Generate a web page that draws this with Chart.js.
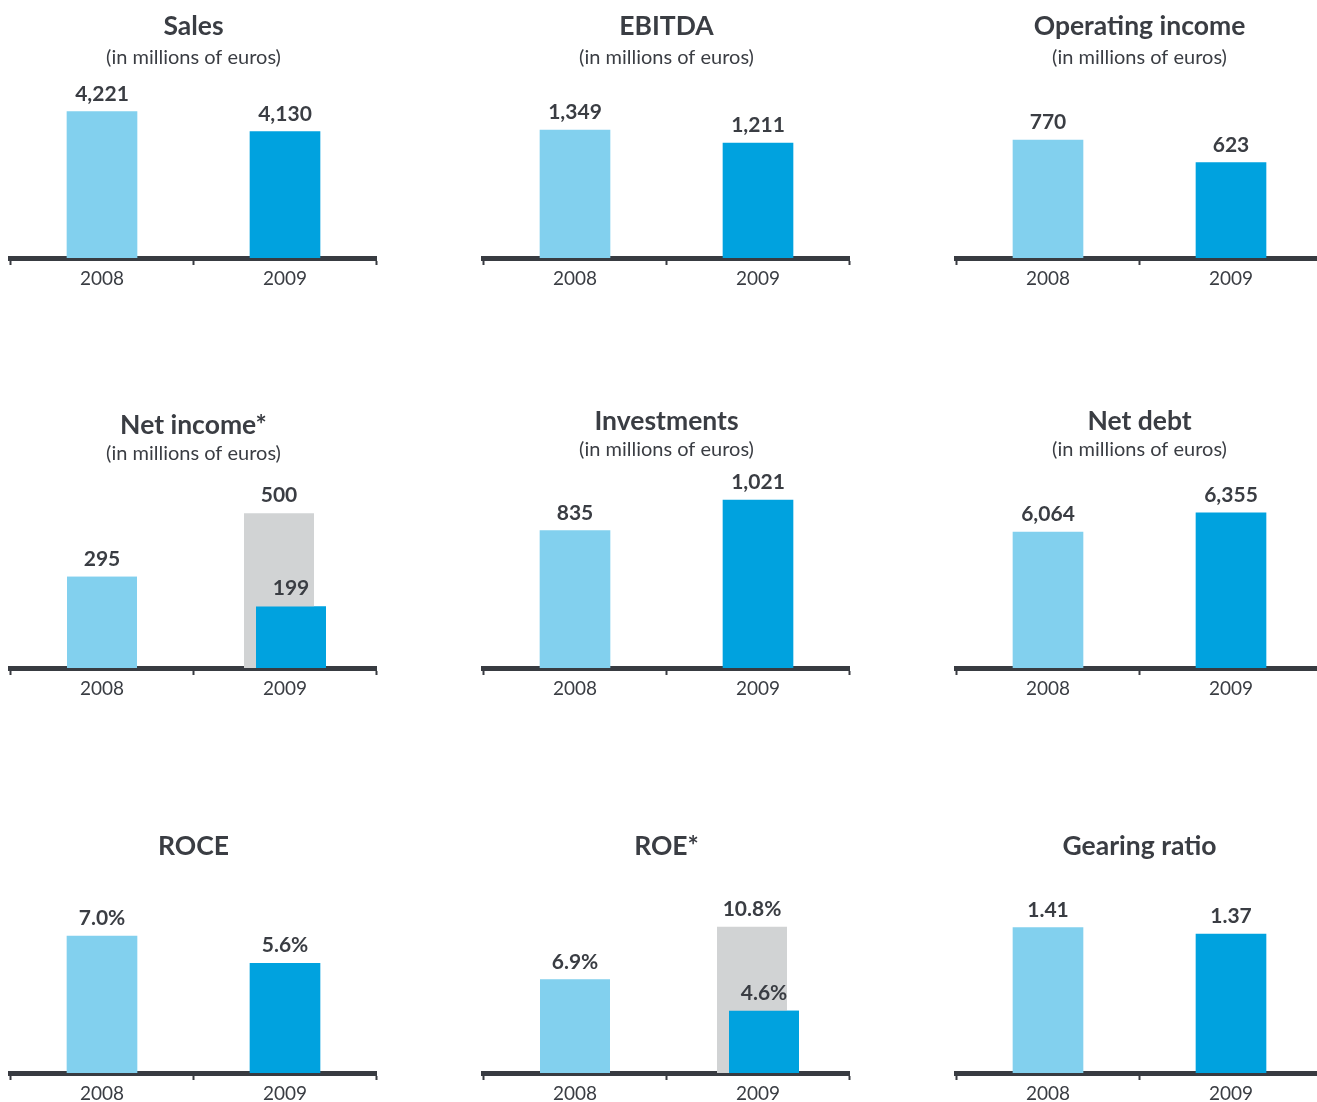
<!DOCTYPE html>
<html>
<head>
<meta charset="utf-8">
<script src="https://cdn.jsdelivr.net/npm/chart.js@4.4.1/dist/chart.umd.min.js"></script>
<style>
  html, body { margin: 0; padding: 0; background: #fff; overflow: hidden; }
  #page { position: relative; width: 1317px; height: 1102px; overflow: hidden; }
  #page canvas { position: absolute; }
</style>
</head>
<body>
<div id="page"></div>
<script>
const years = ['2008', '2009'];

const sales = [4221, 4130];
const ebitda = [1349, 1211];
const operatingIncome = [770, 623];
const netIncome = [295, 199];
const netIncomeGrey = [null, 500];
const investments = [835, 1021];
const netDebt = [6064, 6355];
const roce = [7.0, 5.6];
const roe = [6.9, 4.6];
const roeGrey = [null, 10.8];
const gearing = [1.41, 1.37];

const light = '#82d0ee';
const blue = '#00a2df';
const grey = '#d1d3d4';
const ink = '#383b41';
const text = '#3a3d43';
const millions = '(in millions of euros)';

const thousands = v => v.toLocaleString('en-US');
const pct = v => v.toFixed(1) + '%';
const ratio = v => v.toFixed(2);

// canvas placement per row, chart area bottom sits on the axis line
const rows = [
  {top: 0, height: 292},
  {top: 400, height: 302},
  {top: 800, height: 307}
];
const colLeft = [1, 474, 947];

const panels = [
  {title: 'Sales', sub: millions, values: sales, min: 3550, max: 4412, fmt: thousands,
   row: 0, col: 0, titlePad: {top: 10.1, bottom: 4.1}, subPad: 0},
  {title: 'EBITDA', sub: millions, values: ebitda, min: 0, max: 1981, fmt: thousands,
   row: 0, col: 1, titlePad: {top: 10.1, bottom: 4.1}, subPad: 0},
  {title: 'Operating income', sub: millions, values: operatingIncome, min: 0, max: 1227, fmt: thousands,
   row: 0, col: 2, titlePad: {top: 10.1, bottom: 4.1}, subPad: 0},
  {title: 'Net income*', sub: millions, values: netIncome, greyValues: netIncomeGrey, min: 0, max: 640, fmt: thousands,
   row: 1, col: 0, titlePad: {top: 10, bottom: 0}, subPad: 4.2},
  {title: 'Investments', sub: millions, values: investments, min: 0, max: 1203, fmt: thousands,
   row: 1, col: 1, titlePad: {top: 5.4, bottom: 0}, subPad: 8.8},
  {title: 'Net debt', sub: millions, values: netDebt, min: 4000, max: 7005, fmt: thousands,
   row: 1, col: 2, titlePad: {top: 5.4, bottom: 0}, subPad: 8.8},
  {title: 'ROCE', values: roce, min: 0, max: 10.37, fmt: pct,
   row: 2, col: 0, titlePad: {top: 30.8, bottom: 7.4}},
  {title: 'ROE*', values: roe, greyValues: roeGrey, min: 0, max: 15, fmt: pct,
   row: 2, col: 1, titlePad: {top: 30.8, bottom: 7.4}},
  {title: 'Gearing ratio', values: gearing, min: 0.5, max: 1.771, fmt: ratio,
   row: 2, col: 2, titlePad: {top: 30.8, bottom: 7.4}}
];

// value above each bar; with a grey bar the coloured one is redrawn in front
function valueLabels(fmt) {
  return {
    id: 'valueLabels',
    afterDatasetsDraw(chart) {
      const ctx = chart.ctx;
      const last = chart.data.datasets.length - 1;
      if (last > 0) chart.getDatasetMeta(last).controller.draw();
      ctx.save();
      ctx.font = 'bold 21px Lato';
      ctx.fillStyle = text;
      ctx.textAlign = 'center';
      ctx.textBaseline = 'alphabetic';
      chart.data.datasets.forEach((ds, i) => {
        chart.getDatasetMeta(i).data.forEach((bar, j) => {
          if (ds.data[j] == null) return;
          ctx.fillText(fmt(ds.data[j]), bar.x, bar.y - 11);
        });
      });
      ctx.restore();
    }
  };
}

const page = document.getElementById('page');

panels.forEach(p => {
  const row = rows[p.row];
  const canvas = document.createElement('canvas');
  canvas.width = 386;
  canvas.height = row.height;
  canvas.style.left = colLeft[p.col] + 'px';
  canvas.style.top = row.top + 'px';
  page.appendChild(canvas);

  const main = {data: p.values, backgroundColor: [light, blue], borderWidth: 0};
  let datasets;
  if (p.greyValues) {
    // two slim slots of 12px so the grey and blue bars overlap with a small shift
    const shared = {categoryPercentage: 24 / 183, barPercentage: 10, maxBarThickness: 70, skipNull: true};
    datasets = [
      Object.assign({data: p.greyValues, backgroundColor: grey, borderWidth: 0}, shared),
      Object.assign(main, shared)
    ];
  } else {
    main.barThickness = 70;
    datasets = [main];
  }

  new Chart(canvas, {
    type: 'bar',
    data: {labels: years, datasets},
    options: {
      responsive: false,
      animation: false,
      events: [],
      layout: {padding: {left: 9.5, right: 10.5, top: 0, bottom: 0}},
      plugins: {
        legend: {display: false},
        tooltip: {enabled: false},
        title: {
          display: true,
          text: p.title,
          color: text,
          font: {family: 'Lato', size: 26.5, weight: 'bold'},
          padding: p.titlePad
        },
        subtitle: {
          display: !!p.sub,
          text: p.sub || '',
          color: text,
          font: {family: 'Lato', size: 20},
          padding: {top: 0, bottom: p.subPad || 0}
        }
      },
      scales: {
        x: {
          z: 1,
          offset: true,
          grid: {
            offset: true,
            drawOnChartArea: false,
            tickLength: 7,
            tickWidth: 2,
            tickColor: ink,
            color: ink
          },
          border: {width: 5, color: ink},
          ticks: {color: text, padding: 2.1, font: {family: 'Lato', size: 19}}
        },
        y: {display: false, min: p.min, max: p.max}
      }
    },
    plugins: [valueLabels(p.fmt)]
  });
});
</script>
</body>
</html>
